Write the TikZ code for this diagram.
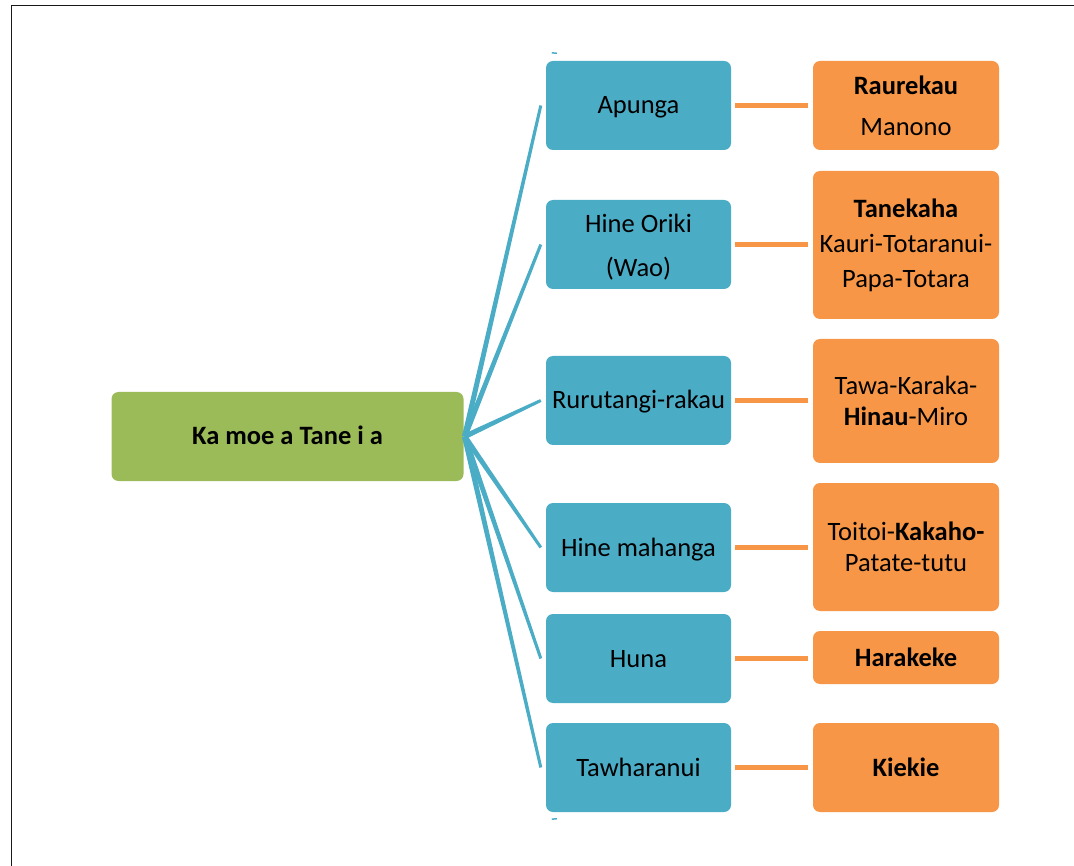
\documentclass[tikz,border=0pt]{standalone}
\usepackage{fontspec}
\setmainfont{Carlito}
\usetikzlibrary{calc}
\definecolor{cgreen}{HTML}{9BBB59}
\definecolor{cteal}{HTML}{4BACC6}
\definecolor{corange}{HTML}{F79646}
\newcommand{\fs}[1]{\fontsize{26.5}{#1}\selectfont}
\begin{document}
\begin{tikzpicture}[x=1pt,y=-1pt,
  box/.style={rounded corners=7pt, inner sep=0pt, align=center, text=black, font=\fs{32}},
  oneline/.style={text height=21pt, text depth=4pt},
  rootbox/.style={box, oneline, fill=cgreen, minimum width=352pt, minimum height=89pt},
  tealbox/.style={box, fill=cteal, minimum width=185pt, minimum height=89pt},
  orangebox/.style={box, fill=corange, minimum width=186pt},
  oline/.style={draw=corange, line width=4.5pt, shorten <=4pt, shorten >=5pt},
  frame/.style={draw=black!90, line width=1.6pt}]
\useasboundingbox (0,0) rectangle (1074,866);
\draw[frame] (11.5,866) -- (11.5,5.5) -- (1074,5.5);

% root
\node[rootbox] (root) at (287.5,436.5) {\textbf{Ka moe a Tane i a}};

% teal column
\node[tealbox, oneline] (apunga) at (638.5,105.5) {Apunga};
\node[tealbox, font=\fs{44}] (oriki) at (638.5,244.5) {\raisebox{-2pt}{Hine Oriki}\\\smash{\raisebox{-2pt}{(Wao)}}};
\node[tealbox, oneline] (ruru) at (638.5,400.5) {Rurutangi-rakau};
\node[tealbox, oneline] (mahanga) at (638.5,547.5) {Hine mahanga};
\node[tealbox, oneline] (huna) at (638.5,658.5) {Huna};
\node[tealbox, oneline] (tawha) at (638.5,767.5) {Tawharanui};

% orange column
\node[orangebox, minimum height=89pt, font=\fs{41}] (raurekau) at (906,105.5) {\textbf{Raurekau}\\Manono};
\node[orangebox, minimum height=148pt, font=\fs{35}] (tanekaha) at (906,245) {\textbf{Tanekaha}\\Kauri-Totaranui-\\Papa-Totara};
\node[orangebox, minimum height=124pt, font=\fs{31}] (tawa) at (906,401) {Tawa-Karaka-\\\textbf{Hinau}-Miro};
\node[orangebox, minimum height=128pt, font=\fs{31}] (toitoi) at (906,547) {Toitoi-\textbf{Kakaho-}\\Patate-tutu};
\node[orangebox, oneline, minimum height=53pt] (harakeke) at (906,657.5) {\textbf{Harakeke}};
\node[orangebox, oneline, minimum height=89pt] (kiekie) at (906,767.5) {\textbf{Kiekie}};

% tapered connectors from root to teal boxes
\coordinate (rc) at ($(root.east)+(1,0)$);
\foreach \c in {apunga,oriki,ruru,mahanga,huna,tawha}{
  \coordinate (e-\c) at ($(\c.west)+(-5,0)$);
  \fill[cteal] ($(rc)!2.7pt!90:(e-\c)$) -- ($(e-\c)!1.5pt!-90:(rc)$)
     -- ($(e-\c)!1.5pt!90:(rc)$) -- ($(rc)!2.7pt!-90:(e-\c)$) -- cycle;
}

% small marks above and below the teal column
\coordinate (tm1) at ($(apunga.north west)+(6,-8)$);
\coordinate (tm2) at ($(tm1)+(5,0.5)$);
\draw[cteal, line width=1.5pt] (tm1) -- (tm2);
\coordinate (bm1) at ($(tawha.south west)+(6,7)$);
\coordinate (bm2) at ($(bm1)+(5,-0.5)$);
\draw[cteal, line width=1.5pt] (bm1) -- (bm2);

% orange connectors
\draw[oline] (apunga.east) -- (raurekau.west);
\draw[oline] (oriki.east) -- (oriki.east -| tanekaha.west);
\draw[oline] (ruru.east) -- (ruru.east -| tawa.west);
\draw[oline] (mahanga.east) -- (mahanga.east -| toitoi.west);
\draw[oline] (huna.east) -- (huna.east -| harakeke.west);
\draw[oline] (tawha.east) -- (kiekie.west);
\end{tikzpicture}
\end{document}
